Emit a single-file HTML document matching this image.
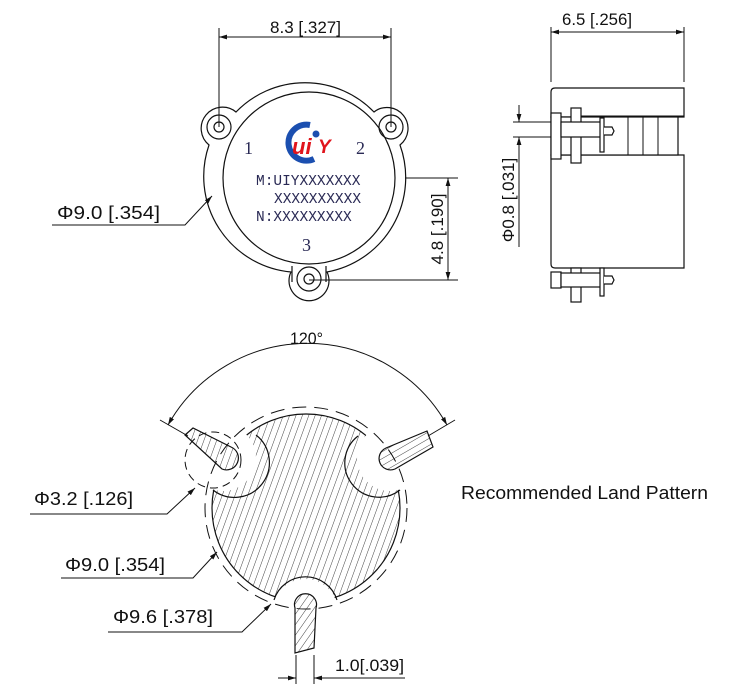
<!DOCTYPE html>
<html><head><meta charset="utf-8"><style>
html,body{margin:0;padding:0;background:#fff;}
svg{display:block;}
text{font-family:"Liberation Sans",Arial,sans-serif;fill:#111;}
.s{font-family:"Liberation Serif","Noto Serif CJK SC",serif;fill:#2a2a55;}
</style></head><body>
<svg width="748" height="694" viewBox="0 0 748 694" xmlns="http://www.w3.org/2000/svg">
<defs>
<marker id="a" viewBox="0 0 10 10" refX="10" refY="5" markerWidth="8" markerHeight="8" orient="auto-start-reverse" markerUnits="userSpaceOnUse"><path d="M0,2 L10,5 L0,8 Z" fill="#111"/></marker>
<pattern id="h1" width="6" height="6" patternUnits="userSpaceOnUse" patternTransform="rotate(20)"><line x1="0" y1="0" x2="0" y2="6" stroke="#111" stroke-width="0.8"/></pattern>
<pattern id="h2" width="6" height="6" patternUnits="userSpaceOnUse" patternTransform="rotate(60)"><line x1="0" y1="0" x2="0" y2="6" stroke="#111" stroke-width="0.8"/></pattern>
<pattern id="h3" width="6" height="6" patternUnits="userSpaceOnUse" patternTransform="rotate(35)"><line x1="0" y1="0" x2="0" y2="6" stroke="#111" stroke-width="0.8"/></pattern>
<mask id="m"><rect width="748" height="694" fill="#fff"/><circle cx="223" cy="458" r="33" fill="#000"/><circle cx="390" cy="458" r="33" fill="#000"/><circle cx="305" cy="612" r="33" fill="#000"/></mask>
</defs>
<g fill="none" stroke="#111" stroke-width="1.2">
<path d="M236,112 A96,96 0 0 1 374,112 A20,20 0 1 1 400,145 A96,96 0 0 1 327,272 A20,20 0 1 1 291,272 A96,96 0 0 1 209,145 A20,20 0 1 1 236,112 Z"/>
<circle cx="309" cy="178" r="86"/>
<circle cx="219" cy="127" r="12"/><circle cx="219" cy="127" r="5"/>
<circle cx="391" cy="127" r="12"/><circle cx="391" cy="127" r="5"/>
<circle cx="309" cy="279" r="12"/><circle cx="309" cy="279" r="5"/>
<path d="M292,266 L292,282 M326,266 L326,282"/>
</g>
<g stroke="#111" stroke-width="1" fill="none">
<line x1="219" y1="28" x2="219" y2="127"/><line x1="391" y1="28" x2="391" y2="127"/>
<line x1="219" y1="37" x2="391" y2="37" marker-start="url(#a)" marker-end="url(#a)"/>
<line x1="405" y1="178" x2="458" y2="178"/><line x1="309" y1="280" x2="458" y2="280"/>
<line x1="448" y1="178" x2="448" y2="280" marker-start="url(#a)" marker-end="url(#a)"/>
<polyline points="52,225 185,225 212,196" marker-end="url(#a)"/>
</g>
<text x="270" y="33" font-size="17" textLength="71" lengthAdjust="spacingAndGlyphs">8.3 [.327]</text>
<text x="57" y="219" font-size="18" textLength="103" lengthAdjust="spacingAndGlyphs">Φ9.0 [.354]</text>
<text transform="translate(443,229) rotate(-90)" font-size="17" text-anchor="middle">4.8 [.190]</text>
<!-- logo -->
<path d="M310,125 A18,18 0 1 0 314,159" fill="none" stroke="#1b4fb0" stroke-width="6"/>
<circle cx="316" cy="134" r="3.5" fill="#1b4fb0"/>
<text x="292" y="154" font-size="22" font-weight="bold" font-style="italic" style="fill:#e0141c">ui</text>
<text x="318" y="153" font-size="19" font-weight="bold" font-style="italic" style="fill:#e0141c">Y</text>
<text class="s" x="244" y="154" font-size="18">1</text>
<text class="s" x="356" y="154" font-size="18">2</text>
<text class="s" x="302" y="251" font-size="18">3</text>
<text class="s" x="256" y="185" font-size="14.5" style="font-family:'Liberation Mono',monospace">M:UIYXXXXXXX</text>
<text class="s" x="274" y="203" font-size="14.5" style="font-family:'Liberation Mono',monospace">XXXXXXXXXX</text>
<text class="s" x="256" y="221" font-size="14.5" style="font-family:'Liberation Mono',monospace">N:XXXXXXXXX</text>
<!-- SIDE VIEW -->
<g fill="#fff" stroke="#111" stroke-width="1.2">
<path d="M555,88 L684,88 L684,117 L551,117 L551,92 Q551,88 555,88 Z"/>
<path d="M551,155 L684,155 L684,268 L555,268 Q551,268 551,264 Z"/>
<rect x="551" y="117" width="127" height="38"/>
<rect x="551" y="113" width="10" height="46"/>
<rect x="571" y="108" width="10" height="55"/>
<rect x="561" y="122" width="41" height="15"/>
<rect x="600" y="118" width="4" height="34"/>
<path d="M604,127 L612,127 L614,131 L612,135 L604,135"/>
<rect x="551" y="272" width="10" height="16"/>
<rect x="571" y="268" width="10" height="34"/>
<rect x="561" y="273" width="41" height="14"/>
<rect x="600" y="268" width="4" height="28"/>
<path d="M604,276 L612,276 L614,280 L612,284 L604,284"/>
</g>
<g stroke="#111" stroke-width="1">
<line x1="628" y1="117" x2="628" y2="155"/><line x1="643" y1="117" x2="643" y2="155"/><line x1="658" y1="117" x2="658" y2="155"/>
<line x1="581" y1="116" x2="684" y2="116"/>
<line x1="551" y1="27" x2="551" y2="82"/><line x1="684" y1="27" x2="684" y2="82"/>
<line x1="551" y1="32" x2="684" y2="32" marker-start="url(#a)" marker-end="url(#a)"/>
<line x1="513" y1="122" x2="551" y2="122"/><line x1="513" y1="137" x2="551" y2="137"/>
<line x1="519" y1="105" x2="519" y2="122" marker-end="url(#a)"/>
<line x1="519" y1="247" x2="519" y2="137" marker-end="url(#a)"/>
</g>
<text x="562" y="25" font-size="17" textLength="70" lengthAdjust="spacingAndGlyphs">6.5 [.256]</text>
<text transform="translate(514,200) rotate(-90)" font-size="17" text-anchor="middle">Φ0.8 [.031]</text>
<!-- LAND PATTERN -->
<circle cx="306" cy="508" r="94" fill="url(#h1)" stroke="#111" stroke-width="1.2" mask="url(#m)"/>
<g fill="none" stroke="#111" stroke-width="1.2">
<path d="M256,435 A33,33 0 0 1 213,490"/>
<path d="M358,436 A33,33 0 0 0 400,490"/>
<path d="M274,600 A33,33 0 0 1 337,600"/>
</g>
<path d="M185,435 L193,428 L231,447 A11,11 0 1 1 222,469 Z" fill="url(#h1)" stroke="#111" stroke-width="1.2"/>
<path d="M427,431 L433,447 L395,469 A11,11 0 1 1 386,448 Z" fill="url(#h2)" stroke="#111" stroke-width="1.2"/>
<path d="M295,653 L295,608 A11,11 0 1 1 316,608 L314,648 Z" fill="url(#h3)" stroke="#111" stroke-width="1.2"/>
<circle cx="306" cy="508" r="101" fill="none" stroke="#111" stroke-width="1" stroke-dasharray="14,8"/>
<circle cx="213" cy="460" r="28" fill="none" stroke="#111" stroke-width="1" stroke-dasharray="8,5"/>
<g stroke="#111" stroke-width="1" fill="none">
<path d="M168,425 A160,160 0 0 1 447,425" marker-start="url(#a)" marker-end="url(#a)"/>
<line x1="160" y1="420" x2="188" y2="436"/><line x1="455" y1="420" x2="428" y2="436"/>
<polyline points="30,514 167,514 195,488" marker-end="url(#a)"/>
<polyline points="61,578 193,578 217,552" marker-end="url(#a)"/>
<polyline points="108,632 242,632 271,604" marker-end="url(#a)"/>
<line x1="296" y1="655" x2="296" y2="684"/><line x1="314" y1="655" x2="314" y2="684"/>
<line x1="278" y1="678" x2="296" y2="678" marker-end="url(#a)"/>
<line x1="405" y1="678" x2="314" y2="678" marker-end="url(#a)"/>
</g>
<text x="290" y="344" font-size="17" textLength="33" lengthAdjust="spacingAndGlyphs">120°</text>
<text x="34" y="505" font-size="18" textLength="99" lengthAdjust="spacingAndGlyphs">Φ3.2 [.126]</text>
<text x="65" y="571" font-size="18" textLength="100" lengthAdjust="spacingAndGlyphs">Φ9.0 [.354]</text>
<text x="113" y="623" font-size="18" textLength="100" lengthAdjust="spacingAndGlyphs">Φ9.6 [.378]</text>
<text x="335" y="671" font-size="17" textLength="69" lengthAdjust="spacingAndGlyphs">1.0[.039]</text>
<text x="461" y="499" font-size="18" textLength="247" lengthAdjust="spacingAndGlyphs">Recommended Land Pattern</text>
</svg>
</body></html>
